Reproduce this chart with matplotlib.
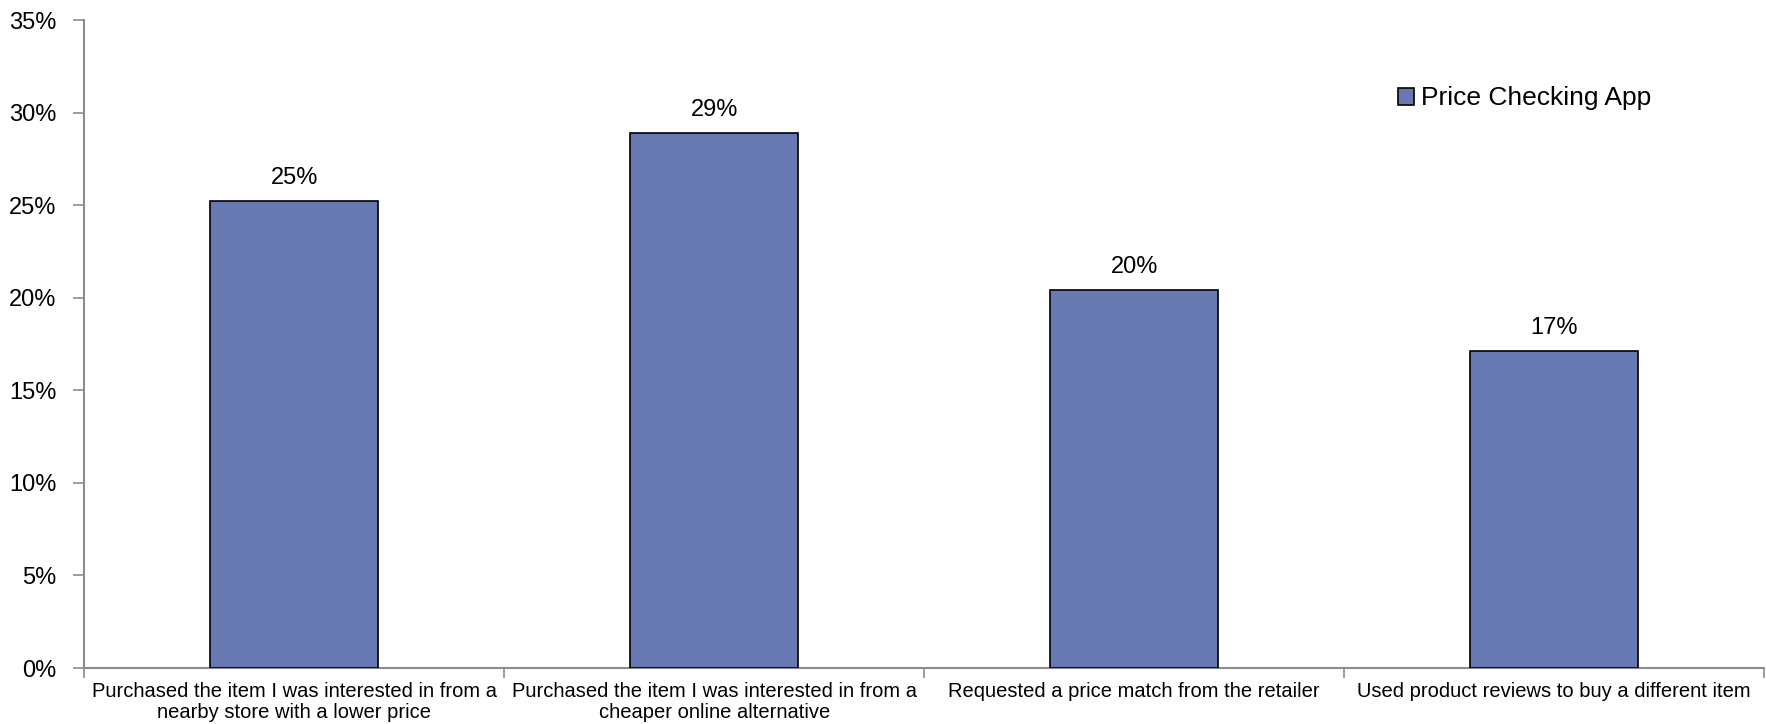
import matplotlib
matplotlib.use('Agg')
import matplotlib.pyplot as plt
import numpy as np

# ---- data ----
categories = [
    "Purchased the item I was interested in from a\nnearby store with a lower price",
    "Purchased the item I was interested in from a\ncheaper online alternative",
    "Requested a price match from the retailer",
    "Used product reviews to buy a different item",
]
values = [0.252, 0.289, 0.204, 0.171]
series_name = "Price Checking App"
yticks = [0.0, 0.05, 0.10, 0.15, 0.20, 0.25, 0.30, 0.35]

bar_color = '#6878b2'
axis_gray = '#8c8c8c'

plt.rcParams['font.family'] = ['Liberation Sans', 'DejaVu Sans']

fig = plt.figure(figsize=(17.66, 7.24), dpi=100)
ax = fig.add_axes([0.0476, 0.0773, 0.9514, 0.895])

x = np.arange(len(categories))
ax.bar(x, values, width=0.4, color=bar_color, edgecolor='black', linewidth=1.2,
       label=series_name, zorder=3)

for xi, v in zip(x, values):
    ax.text(xi, v + 0.0065, f"{v*100:.0f}%", ha='center', va='bottom', fontsize=17)

ax.set_xlim(-0.5, len(categories) - 0.5)
ax.set_ylim(0, 0.35)
ax.set_yticks(yticks)
ax.set_yticklabels([f"{t*100:.0f}%" for t in yticks], fontsize=17)

ax.set_xticks(x)
ax.set_xticklabels(categories, fontsize=14.5, linespacing=1.15)
ax.set_xticks(np.arange(-0.5, len(categories) + 0.5, 1), minor=True)
ax.tick_params(axis='x', which='major', length=0, pad=10)
ax.tick_params(axis='x', which='minor', length=7, color=axis_gray, width=1.2)
ax.tick_params(axis='y', length=8, color=axis_gray, width=1.2, pad=12)

for side in ['top', 'right']:
    ax.spines[side].set_visible(False)
for side in ['left', 'bottom']:
    ax.spines[side].set_color(axis_gray)
    ax.spines[side].set_linewidth(1.5)

ax.legend(loc='center left', bbox_to_anchor=(0.768, 0.879), frameon=False,
          fontsize=19, handlelength=0.6, handleheight=0.6, handletextpad=0.25)

fig.savefig('out.png', dpi=100)
